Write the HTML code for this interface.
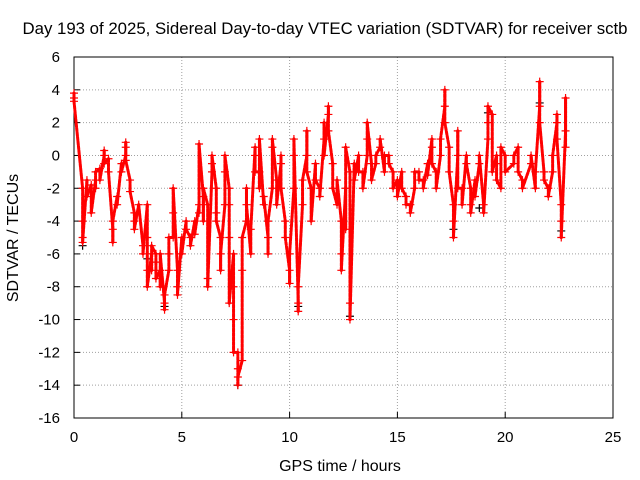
<!DOCTYPE html>
<html><head><meta charset="utf-8"><style>
body{margin:0;background:#fff;}
svg{display:block;font-family:"Liberation Sans",sans-serif;}
</style></head><body>
<svg id="chart" width="640" height="480">
<rect width="640" height="480" fill="#fff"/>
<text x="325" y="34" font-size="16.8" text-anchor="middle">Day 193 of 2025, Sidereal Day-to-day VTEC variation (SDTVAR) for receiver sctb</text>
<text x="340" y="471" font-size="16" text-anchor="middle">GPS time / hours</text>
<text transform="translate(18,238) rotate(-90)" font-size="16" text-anchor="middle">SDTVAR / TECUs</text>
<g id="grid"></g><g id="axes"></g><g id="black"></g><g id="red"></g>
</svg>
<script>
const xTicks=[0,5,10,15,20,25];
const yTicks=[6,4,2,0,-2,-4,-6,-8,-10,-12,-14,-16];
const redT=[0,0,0,0.4,0.4,0.4,0.4,0.6,0.6,0.8,0.8,0.8,1.0,1.0,1.0,1.2,1.2,1.4,1.4,1.4,1.6,1.6,1.8,1.8,1.8,2.0,2.0,2.2,2.2,2.4,2.4,2.4,2.4,2.6,2.6,2.8,2.8,2.8,3.0,3.2,3.2,3.4,3.4,3.4,3.4,3.6,3.6,3.6,3.8,3.8,3.8,4.0,4.0,4.0,4.2,4.2,4.2,4.4,4.4,4.4,4.6,4.6,4.6,4.8,4.8,4.8,5.0,5.0,5.2,5.2,5.4,5.4,5.6,5.6,5.8,5.8,5.8,6.0,6.0,6.0,6.2,6.2,6.2,6.4,6.4,6.4,6.6,6.6,6.6,6.8,6.8,6.8,7.0,7.0,7.0,7.2,7.2,7.2,7.2,7.4,7.4,7.4,7.4,7.6,7.6,7.6,7.6,7.8,7.8,7.8,8.0,8.0,8.0,8.2,8.2,8.4,8.4,8.4,8.6,8.6,8.6,8.8,8.8,9.0,9.0,9.0,9.2,9.2,9.2,9.4,9.4,9.6,9.6,9.6,9.8,9.8,10.0,10.0,10.0,10.2,10.2,10.2,10.4,10.4,10.4,10.6,10.6,10.8,10.8,10.8,11.0,11.0,11.2,11.2,11.4,11.4,11.6,11.6,11.6,11.8,11.8,11.8,12.0,12.0,12.2,12.2,12.4,12.4,12.4,12.6,12.6,12.6,12.8,12.8,12.8,13.0,13.0,13.2,13.2,13.4,13.4,13.6,13.6,13.6,13.8,13.8,14.0,14.0,14.2,14.2,14.4,14.4,14.6,14.6,14.8,14.8,15.0,15.0,15.2,15.2,15.4,15.4,15.6,15.6,15.8,15.8,16.0,16.0,16.2,16.2,16.4,16.4,16.6,16.6,16.6,16.8,16.8,17.0,17.0,17.2,17.2,17.2,17.4,17.4,17.6,17.6,17.6,17.8,17.8,17.8,18.0,18.0,18.2,18.2,18.4,18.4,18.4,18.6,18.6,18.8,18.8,19.0,19.0,19.2,19.2,19.2,19.4,19.4,19.6,19.6,19.6,19.8,19.8,20.0,20.0,20.4,20.4,20.6,20.6,20.8,20.8,21.2,21.2,21.4,21.4,21.6,21.6,21.6,21.8,21.8,22.0,22.0,22.2,22.2,22.4,22.4,22.4,22.6,22.6,22.6,22.8,22.8,22.8];
const redV=[3.5,3.8,3.3,-2,-4,-5,-5.3,-1.5,-2.5,-1.8,-2.2,-3.5,-1.5,-2,-1,-0.8,-1.5,0,0.3,-0.5,-0.2,-1,-4.5,-5.3,-4,-2.5,-3,-0.5,-1,0,0.5,0.8,-0.3,-1.5,-2.2,-3.5,-4,-4.5,-3,-5.5,-6,-3,-5,-7,-8,-6,-7,-5.5,-6,-6.5,-7.5,-7,-8,-6,-9,-9.4,-8.5,-7,-6,-5,-5,-3.5,-2,-7,-8,-8.5,-5,-6,-4,-4.5,-5,-5.5,-4,-4.8,-3,-3.5,0.7,-2.5,-4,-2,-3,-7.5,-8,-1,-0.5,0,-2,-3.5,-4,-5,-7,-6,-3,-1,0,-2,-3,-5,-9,-6,-8,-10,-12,-12,-13,-14,-13.5,-12.5,-7,-5,-4,-2,-3,-6,-4.5,0.5,0,-1,-1,-2,1,-3,-2.5,-5,-6,-4,-2,0.5,1,-1.5,-3,-0.5,0,-2,-4,-5,-7,-7.8,-6,-2,0,1,-9,-9.5,-8,-3,-1.5,0,1.5,-1,-2,-4,-0.5,-1.5,-2,-2.5,1,2,0,2.5,3,1.5,-0.5,-2,-3,-1.5,-4,-6,-7,-2,-4.5,0.5,-1,-9,-10,-0.5,-1.5,0,-1,-1,-2,0,1,2,-0.5,-1.5,-0.5,0,0.5,1,-1,0,0,-0.5,-1,-2,-1.5,-2.5,-1,-2,-2.5,-3,-3,-3.5,-2,-1,-1,-1.5,-1.5,-2,-0.5,-1.2,1,0.5,-0.5,-1,-2,0,1,3,4,2,0.5,-1,-3,-4,-5,0,1.5,-2,-2,-3,0,-0.5,-2,-3,-3.5,-1.5,-2.5,-0.5,0,-3,-3.5,1,2,3,2.5,-1,0,-0.5,-1.5,-2,0.5,0,-1,-0.5,0,0.5,-1,-1.5,-2,-0.5,0,-2,-1,3,4.5,2,-1,-1.5,-2,-2.5,-1,0,2,2.5,1,-3,-4,-5,1.5,3.5,0.5];
const blackT=[0.4,3.4,4.2,7.6,10.4,12.8,17.6,18.8,19.2,21.6,22.6];
const blackV=[-5.5,-6.3,-9.2,-14,-9.2,-9.8,-4.5,-3.2,2.6,3.2,-4.6];
const X0=74,X1=613,Y0=57,Y1=418;
const sx=t=>X0+(t-0)/(25-0)*(X1-X0);
const sy=v=>Y1-(v-(-16))/(6-(-16))*(Y1-Y0);
const NS='http://www.w3.org/2000/svg';
const grid=document.getElementById('grid'),axes=document.getElementById('axes');
function mk(tag,attrs,parent){const e=document.createElementNS(NS,tag);for(const k in attrs)e.setAttribute(k,attrs[k]);parent.appendChild(e);return e;}
xTicks.forEach(t=>{const x=sx(t);
 if(t>0&&t<25){const g=mk('line',{x1:x,x2:x,y1:Y0,y2:Y1,stroke:'#a0a0a0','stroke-dasharray':'1,2'},grid);
 
 }
 const l=mk('line',{x1:x,x2:x,y1:Y1,y2:Y1-6,stroke:'#000'},axes);
 
 
 const tx=mk('text',{x:x,y:Y1+24,'font-size':15,'text-anchor':'middle'},axes);tx.textContent=t;
 
 
});
yTicks.forEach(v=>{const y=sy(v);
 if(v<6&&v>-16){const g=mk('line',{x1:X0,x2:X1,y1:y,y2:y,stroke:'#a0a0a0','stroke-dasharray':'1,2'},grid);
 
 }
 const l=mk('line',{x1:X0,x2:X0+6,y1:y,y2:y,stroke:'#000'},axes);
 
 
 const tx=mk('text',{x:X0-14,y:y+5,'font-size':15,'text-anchor':'end'},axes);tx.textContent=v;
 
 
});
const fr=mk('rect',{x:X0,y:Y0,width:X1-X0,height:Y1-Y0,fill:'none',stroke:'#000'},axes);


function plus(g,t,v,col){const x=sx(t),y=sy(v);
 const p=mk('path',{d:`M${x-4},${y}h8M${x},${y-4}v8`,stroke:col,'stroke-width':1.2},g);
 
 }
const bg=document.getElementById('black'),rg=document.getElementById('red');
blackT.forEach((t,i)=>plus(bg,t,blackV[i],'#000'));
redT.forEach((t,i)=>{plus(rg,t,redV[i],'#ff0000');
 if(i>0&&Math.abs(redT[i]-redT[i-1])<0.5){const seg=mk('line',{x1:sx(redT[i-1]),y1:sy(redV[i-1]),x2:sx(t),y2:sy(redV[i]),stroke:'#ff0000','stroke-width':3,'stroke-linecap':'round','stroke-dasharray':'3,1.5'},rg);
 
 }
});
</script>
</body></html>
